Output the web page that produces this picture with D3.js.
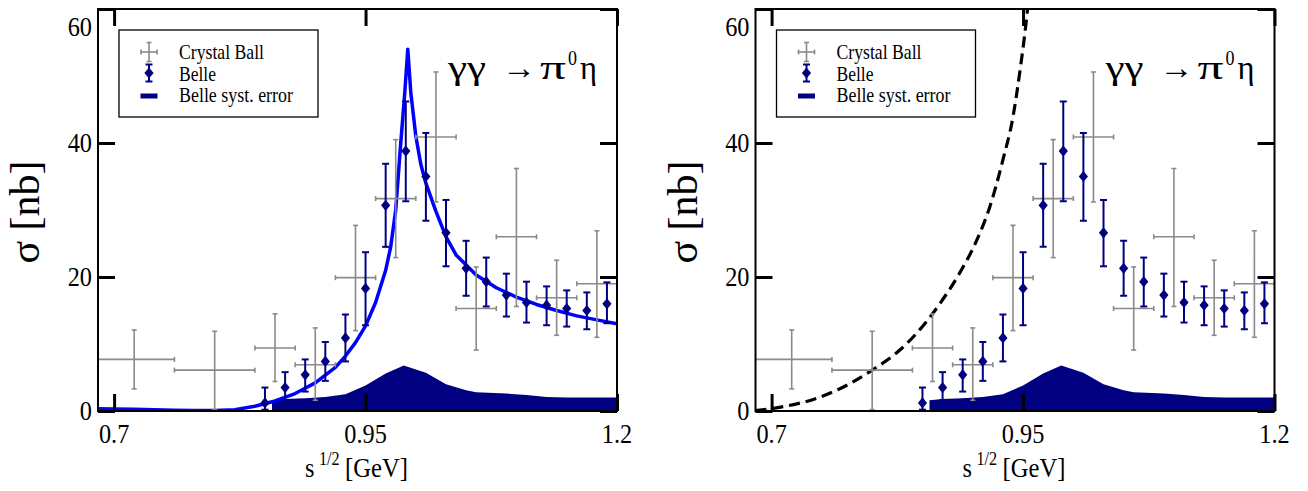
<!DOCTYPE html>
<html><head><meta charset="utf-8">
<script src="https://cdn.jsdelivr.net/npm/d3@7"></script>
<style>
html,body{margin:0;padding:0;background:#fff;}
svg{display:block;}
svg text{font-family:"Liberation Serif","Times New Roman","DejaVu Serif",serif;fill:#000;}
</style></head><body>
<svg id="chart" width="1308" height="491"></svg>
<script>
// ---------- data ----------
const xTicks = [0.7, 0.95, 1.2];
const xTickLabels = ["0.7", "0.95", "1.2"];
const yTicks = [0, 20, 40, 60];
const yTickLabels = ["0", "20", "40", "60"];

// Crystal Ball
const cbX   = [0.72, 0.80, 0.86, 0.90, 0.94, 0.98, 1.02, 1.06, 1.10, 1.14, 1.18];
const cbXlo = [0.68, 0.76, 0.84, 0.88, 0.92, 0.96, 1.00, 1.04, 1.08, 1.12, 1.16];
const cbXhi = [0.76, 0.84, 0.88, 0.92, 0.96, 1.00, 1.04, 1.08, 1.12, 1.16, 1.20];
const cbY   = [7.7, 6.1, 9.4, 6.9, 19.9, 31.7, 40.9, 15.3, 26.0, 16.9, 19.0];
const cbYlo = [3.3, 0.2, 4.4, 1.6, 12.0, 22.9, 31.2, 9.1, 15.6, 11.3, 11.0];
const cbYhi = [12.1, 11.9, 14.5, 12.4, 27.7, 40.5, 50.6, 21.5, 36.2, 22.5, 26.9];

// Belle
const bX   = [0.85, 0.87, 0.89, 0.91, 0.93, 0.95, 0.97, 0.99, 1.01, 1.03, 1.05, 1.07, 1.09, 1.11, 1.13, 1.15, 1.17, 1.19];
const bY   = [1.2, 3.5, 5.4, 7.4, 10.9, 18.3, 30.7, 38.8, 35.0, 26.6, 21.3, 19.3, 17.3, 16.2, 15.8, 15.3, 15.0, 16.0];
const bYlo = [0.2, 1.6, 2.9, 4.5, 7.4, 12.8, 24.5, 31.3, 28.4, 21.6, 17.2, 15.6, 14.1, 13.2, 12.8, 12.6, 12.2, 13.1];
const bYhi = [3.5, 5.8, 7.7, 10.3, 14.4, 23.7, 36.9, 46.2, 41.5, 31.5, 25.4, 22.9, 20.5, 19.3, 18.6, 18.0, 17.7, 19.2];

// Belle systematic error band
const sysX = [0.857, 0.87, 0.89, 0.91, 0.93, 0.95, 0.97, 0.988, 1.01, 1.03, 1.05, 1.06, 1.09, 1.11, 1.13, 1.15, 1.17, 1.2];
const sysY = [1.6, 1.8, 1.9, 2.1, 2.5, 3.8, 5.6, 6.8, 5.7, 4.0, 3.1, 2.8, 2.6, 2.4, 2.1, 2.0, 2.0, 2.0];

// left panel: theory curve
const fitX = [0.684, 0.70, 0.72, 0.74, 0.76, 0.78, 0.80, 0.82, 0.84, 0.86, 0.88, 0.90, 0.92, 0.93, 0.94, 0.95, 0.96, 0.97, 0.975, 0.98, 0.985, 0.989, 0.992, 0.995, 1.0, 1.005, 1.01, 1.02, 1.03, 1.04, 1.06, 1.08, 1.10, 1.12, 1.14, 1.16, 1.18, 1.20];
const fitY = [0.35, 0.3, 0.25, 0.18, 0.12, 0.08, 0.08, 0.2, 0.7, 1.5, 2.6, 4.2, 6.5, 8.2, 10.2, 12.7, 16.2, 21.0, 24.5, 30.0, 40.0, 47.5, 54.0, 47.5, 41.0, 36.8, 34.0, 29.8, 26.0, 23.3, 20.3, 18.4, 17.0, 15.9, 15.0, 14.2, 13.6, 13.0];

// right panel: dashed curve
const dashX = [0.684, 0.7115, 0.745, 0.778, 0.80, 0.8275, 0.85, 0.87, 0.887, 0.904, 0.917, 0.930, 0.940, 0.9475, 0.953, 0.9545, 0.957];
const dashY = [0.05, 0.65, 1.9, 4.1, 6.1, 9.1, 12.6, 16.6, 20.6, 25.5, 30.5, 37.5, 43.9, 51.4, 57.9, 60, 63];

const legendLabels = ["Crystal Ball", "Belle", "Belle syst. error"];

// ---------- layout ----------
const panels = [{left: 98, kind: "fit"}, {left: 755.5, kind: "dash"}];
const PW = 519, TOP = 9, BOTTOM = 411;
const SX = 0.9;
const GRAY = "#8a8a8a", NAVY = "#000080", BLUE = "#0000ff";
const DIAMOND = "M0,-5.6L4.6,0L0,5.6L-4.6,0Z";

const svg = d3.select("#chart");
const defs = svg.append("defs");

function htext(parent, txt, x, y, size, anchor, len) {
  const t = parent.append("text")
    .attr("transform", `translate(${x},${y}) scale(${SX},1)`)
    .attr("text-anchor", anchor || "start")
    .attr("font-size", size)
    .text(txt);
  if (len) t.attr("textLength", len / SX).attr("lengthAdjust", "spacingAndGlyphs");
  return t;
}

panels.forEach((p, i) => {
  const x = d3.scaleLinear().domain([0.684, 1.2]).range([p.left, p.left + PW]);
  const y = d3.scaleLinear().domain([0, 60]).range([BOTTOM, TOP]);
  const g = svg.append("g");

  const clipId = "clip" + i;
  defs.append("clipPath").attr("id", clipId).append("rect")
    .attr("x", p.left).attr("y", TOP).attr("width", PW).attr("height", BOTTOM - TOP);
  const plot = g.append("g").attr("clip-path", `url(#${clipId})`);

  // syst band
  plot.append("path")
    .datum(sysX.map((v, j) => [v, sysY[j]]))
    .attr("d", d3.area().x(d => x(d[0])).y0(y(0)).y1(d => y(d[1])))
    .attr("fill", NAVY);

  // curves
  if (p.kind === "fit") {
    plot.append("path")
      .datum(fitX.map((v, j) => [v, fitY[j]]))
      .attr("d", d3.line().x(d => x(d[0])).y(d => y(d[1])))
      .attr("fill", "none").attr("stroke", BLUE).attr("stroke-width", 3.5)
      .attr("stroke-linejoin", "round");
  } else {
    const ln = d3.line().x(d => x(d[0])).y(d => y(d[1])).curve(d3.curveMonotoneX);
    const dd = dashX.map((v, j) => [v, dashY[j]]);
    plot.append("path").datum(dd).attr("d", ln)
      .attr("fill", "none").attr("stroke", "#dcdcff").attr("stroke-width", 0.8);
    plot.append("path").datum(dd).attr("d", ln)
      .attr("fill", "none").attr("stroke", "#000").attr("stroke-width", 3.2)
      .attr("stroke-dasharray", "11,6");
  }

  // Crystal Ball
  const cb = plot.append("g").attr("stroke", GRAY).attr("stroke-width", 1.6);
  cbX.forEach((v, j) => {
    const cx = x(v), cy = y(cbY[j]);
    const x0 = x(cbXlo[j]), x1 = x(cbXhi[j]);
    const y0 = y(cbYlo[j]), y1 = y(cbYhi[j]);
    cb.append("line").attr("x1", x0).attr("x2", x1).attr("y1", cy).attr("y2", cy);
    cb.append("line").attr("x1", cx).attr("x2", cx).attr("y1", y0).attr("y2", y1);
    cb.append("line").attr("x1", x0).attr("x2", x0).attr("y1", cy - 2.5).attr("y2", cy + 2.5);
    cb.append("line").attr("x1", x1).attr("x2", x1).attr("y1", cy - 2.5).attr("y2", cy + 2.5);
    cb.append("line").attr("x1", cx - 2.5).attr("x2", cx + 2.5).attr("y1", y0).attr("y2", y0);
    cb.append("line").attr("x1", cx - 2.5).attr("x2", cx + 2.5).attr("y1", y1).attr("y2", y1);
  });

  // Belle
  const be = plot.append("g");
  bX.forEach((v, j) => {
    const cx = x(v), cy = y(bY[j]);
    const y0 = y(bYlo[j]), y1 = y(bYhi[j]);
    const eb = be.append("g").attr("stroke", NAVY).attr("stroke-width", 2);
    eb.append("line").attr("x1", cx).attr("x2", cx).attr("y1", y0).attr("y2", y1);
    eb.append("line").attr("x1", cx - 3.5).attr("x2", cx + 3.5).attr("y1", y0).attr("y2", y0);
    eb.append("line").attr("x1", cx - 3.5).attr("x2", cx + 3.5).attr("y1", y1).attr("y2", y1);
    be.append("path").attr("transform", `translate(${cx},${cy})`)
      .attr("d", DIAMOND).attr("fill", NAVY);
  });

  // frame
  g.append("rect").attr("x", p.left).attr("y", TOP).attr("width", PW).attr("height", BOTTOM - TOP)
    .attr("fill", "none").attr("stroke", "#000").attr("stroke-width", 2);

  // ticks (inward)
  const axes = [
    [d3.axisBottom(x).tickValues(xTicks), `translate(0,${BOTTOM})`],
    [d3.axisTop(x).tickValues(xTicks), `translate(0,${TOP})`],
    [d3.axisLeft(y).tickValues(yTicks), `translate(${p.left},0)`],
    [d3.axisRight(y).tickValues(yTicks), `translate(${p.left + PW},0)`]
  ];
  axes.forEach(([ax, tr]) => {
    const a = g.append("g").attr("transform", tr)
      .call(ax.tickSize(-17).tickFormat(""));
    a.select(".domain").remove();
    a.selectAll(".tick line").attr("stroke", "#000").attr("stroke-width", 3);
  });

  // tick labels
  xTicks.forEach((v, j) => htext(g, xTickLabels[j], x(v), 443, 27, "middle"));
  yTicks.forEach((v, j) => htext(g, yTickLabels[j], p.left - 6, Math.max(y(v), 27) + 9, 27, "end"));

  // axis titles
  const xl = g.append("g");
  htext(xl, "s", p.left + 207, 477, 27);
  htext(xl, "1/2", p.left + 221, 465, 18);
  htext(xl, "[GeV]", p.left + 247, 477, 27, "start", 63);
  g.append("text")
    .attr("transform", `translate(${p.left - 59},212) rotate(-90)`)
    .attr("text-anchor", "middle").attr("font-size", 42)
    .text("σ [nb]");

  // reaction label
  htext(g, "γγ", p.left + 350, 79, 34, "start", 38);
  htext(g, "→", p.left + 404, 79, 34, "start", 34);
  htext(g, "π", p.left + 442, 79, 34, "start", 26);
  htext(g, "0", p.left + 470, 65, 20);
  htext(g, "η", p.left + 482, 79, 34, "start", 17);

  // legend
  const lg = g.append("g");
  lg.append("rect").attr("x", p.left + 21).attr("y", 30).attr("width", 199).attr("height", 87)
    .attr("fill", "#fff").attr("stroke", "#000").attr("stroke-width", 1.3);
  const sx = p.left + 51, tx = p.left + 81;
  const rowSym = [52, 73, 96], rowBase = [59, 80.5, 101.5];
  const rowLen = [85, 37, 114];
  // Crystal Ball symbol
  const s0 = lg.append("g").attr("stroke", GRAY).attr("stroke-width", 1.6);
  s0.append("line").attr("x1", sx - 8).attr("x2", sx + 8).attr("y1", rowSym[0]).attr("y2", rowSym[0]);
  s0.append("line").attr("x1", sx).attr("x2", sx).attr("y1", rowSym[0] - 9.5).attr("y2", rowSym[0] + 9.5);
  s0.append("line").attr("x1", sx - 8).attr("x2", sx - 8).attr("y1", rowSym[0] - 2.5).attr("y2", rowSym[0] + 2.5);
  s0.append("line").attr("x1", sx + 8).attr("x2", sx + 8).attr("y1", rowSym[0] - 2.5).attr("y2", rowSym[0] + 2.5);
  s0.append("line").attr("x1", sx - 2.5).attr("x2", sx + 2.5).attr("y1", rowSym[0] - 9.5).attr("y2", rowSym[0] - 9.5);
  s0.append("line").attr("x1", sx - 2.5).attr("x2", sx + 2.5).attr("y1", rowSym[0] + 9.5).attr("y2", rowSym[0] + 9.5);
  // Belle symbol
  const s1 = lg.append("g").attr("stroke", NAVY).attr("stroke-width", 2);
  s1.append("line").attr("x1", sx).attr("x2", sx).attr("y1", rowSym[1] - 8.5).attr("y2", rowSym[1] + 8.5);
  s1.append("line").attr("x1", sx - 3.5).attr("x2", sx + 3.5).attr("y1", rowSym[1] - 8.5).attr("y2", rowSym[1] - 8.5);
  s1.append("line").attr("x1", sx - 3.5).attr("x2", sx + 3.5).attr("y1", rowSym[1] + 8.5).attr("y2", rowSym[1] + 8.5);
  lg.append("path").attr("transform", `translate(${sx},${rowSym[1]})`)
    .attr("d", DIAMOND).attr("fill", NAVY);
  // syst symbol
  lg.append("rect").attr("x", sx - 8.5).attr("y", rowSym[2] - 2.5).attr("width", 17).attr("height", 5).attr("fill", NAVY);
  legendLabels.forEach((t, j) => htext(lg, t, tx, rowBase[j], 20, "start", rowLen[j]));
});
</script>
</body></html>
